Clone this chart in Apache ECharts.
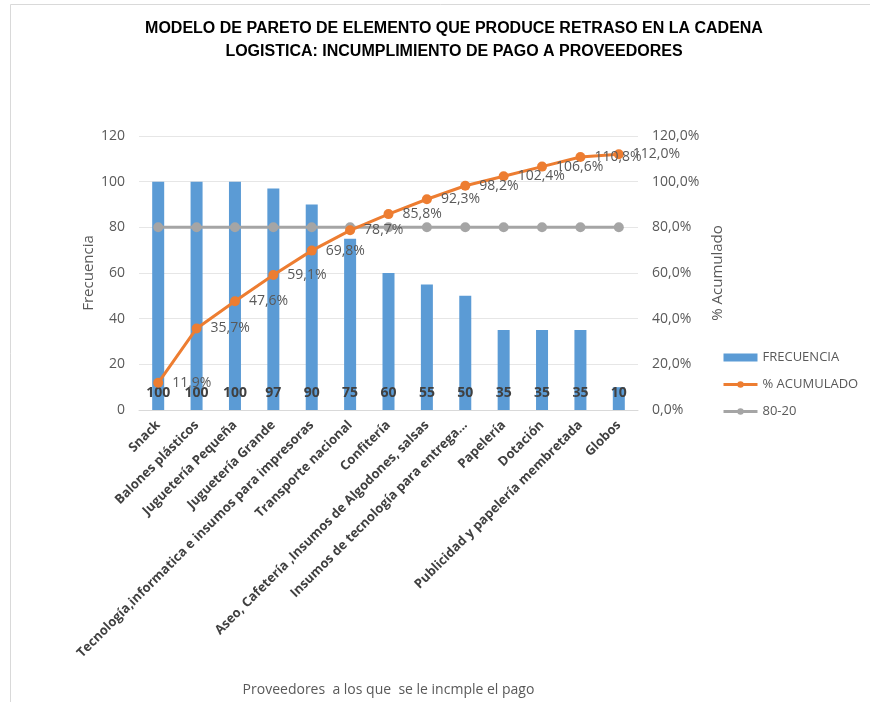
<!DOCTYPE html>
<html>
<head>
<meta charset="utf-8">
<script src="https://cdn.jsdelivr.net/npm/echarts@6/dist/echarts.min.js"></script>
<style>
  html, body { margin: 0; padding: 0; background: #fff; }
  #chart { width: 870px; height: 702px; }
</style>
</head>
<body>
<div id="chart"></div>
<script>
const categories = [
  'Snack', 'Balones plásticos', 'Juguetería Pequeña', 'Juguetería Grande',
  'Tecnología,informatica e insumos para impresoras', 'Transporte nacional',
  'Confitería', 'Aseo, Cafetería ,Insumos de Algodones, salsas',
  'Insumos de tecnología para entrega...', 'Papelería', 'Dotación',
  'Publicidad y papelería membretada', 'Globos'
];
const frecuencia = [100, 100, 100, 97, 90, 75, 60, 55, 50, 35, 35, 35, 10];
const acumulado = [11.9, 35.7, 47.6, 59.1, 69.8, 78.7, 85.8, 92.3, 98.2, 102.4, 106.6, 110.8, 112.0];
const linea8020 = [80, 80, 80, 80, 80, 80, 80, 80, 80, 80, 80, 80, 80];
const leftTicks = { min: 0, max: 120, interval: 20 };
const rightTicks = { min: 0, max: 120, interval: 20 };

const pct = v => v.toFixed(1).replace('.', ',') + '%';
const font = 'Open Sans, Liberation Sans, sans-serif';

const chart = echarts.init(document.getElementById('chart'));
chart.setOption({
  animation: false,
  textStyle: { fontFamily: font },
  graphic: [{
    type: 'rect', left: 8, top: 2,
    shape: { width: 900, height: 760 },
    style: { fill: 'none', stroke: '#d9d9d9', lineWidth: 1 }
  }],
  title: {
    text: 'MODELO DE PARETO DE ELEMENTO QUE PRODUCE RETRASO EN LA CADENA\nLOGISTICA: INCUMPLIMIENTO DE PAGO A PROVEEDORES',
    left: 449, top: 12, textAlign: 'center',
    textStyle: {
      fontFamily: 'Liberation Sans, sans-serif',
      fontSize: 16, fontWeight: 'bold', color: '#000', lineHeight: 23
    }
  },
  legend: {
    orient: 'vertical', left: 717, top: 346, itemGap: 14,
    itemWidth: 34, itemHeight: 8,
    textStyle: { color: '#595959', fontSize: 13, fontFamily: font },
    data: [
      { name: 'FRECUENCIA', icon: 'rect' },
      { name: '% ACUMULADO', lineStyle: { width: 3 } },
      { name: '80-20', lineStyle: { width: 3 } }
    ]
  },
  grid: { left: 139, right: 232, top: 136, bottom: 292, outerBoundsMode: 'none', containLabel: false },
  xAxis: {
    type: 'category', data: categories,
    name: 'Proveedores  a los que  se le incmple el pago',
    nameLocation: 'middle', nameGap: 273, nameMoveOverlap: false,
    nameTextStyle: { color: '#595959', fontSize: 14 },
    axisLine: { lineStyle: { color: '#d9d9d9' } },
    axisTick: { show: false },
    axisLabel: {
      rotate: 45, interval: 0, margin: 13,
      color: '#404040', fontWeight: 'bold', fontSize: 13
    }
  },
  yAxis: [{
    type: 'value', min: leftTicks.min, max: leftTicks.max, interval: leftTicks.interval,
    name: 'Frecuencia', nameLocation: 'middle', nameGap: 43, nameRotate: 90, nameMoveOverlap: false,
    nameTextStyle: { color: '#595959', fontSize: 15 },
    axisLabel: { color: '#595959', fontSize: 14, margin: 14 },
    axisLine: { show: false }, axisTick: { show: false },
    splitLine: { lineStyle: { color: '#e6e6e6' } }
  }, {
    type: 'value', min: rightTicks.min, max: rightTicks.max, interval: rightTicks.interval,
    name: '% Acumulado', nameLocation: 'middle', nameGap: 72, nameRotate: 90, nameMoveOverlap: false,
    nameTextStyle: { color: '#595959', fontSize: 15 },
    axisLabel: { color: '#595959', fontSize: 14, margin: 14, formatter: v => pct(v) },
    axisLine: { show: false }, axisTick: { show: false },
    splitLine: { show: false }
  }],
  series: [{
    name: 'FRECUENCIA', type: 'bar', data: frecuencia,
    barWidth: 12,
    itemStyle: { color: '#5B9BD5' },
    label: {
      show: true, position: 'insideBottom', distance: 10,
      color: '#404040', fontSize: 14, fontWeight: 'bold'
    },
    z: 2
  }, {
    name: '% ACUMULADO', type: 'line', yAxisIndex: 1, data: acumulado,
    symbol: 'circle', symbolSize: 10,
    lineStyle: { color: '#ED7D31', width: 3 },
    itemStyle: { color: '#ED7D31' },
    label: {
      show: true, position: 'right', distance: 9,
      color: '#595959', fontSize: 14,
      formatter: p => pct(p.value)
    },
    z: 3
  }, {
    name: '80-20', type: 'line', yAxisIndex: 1, data: linea8020,
    symbol: 'circle', symbolSize: 10,
    lineStyle: { color: '#A5A5A5', width: 3 },
    itemStyle: { color: '#A5A5A5' },
    z: 2
  }]
});
</script>
</body>
</html>
